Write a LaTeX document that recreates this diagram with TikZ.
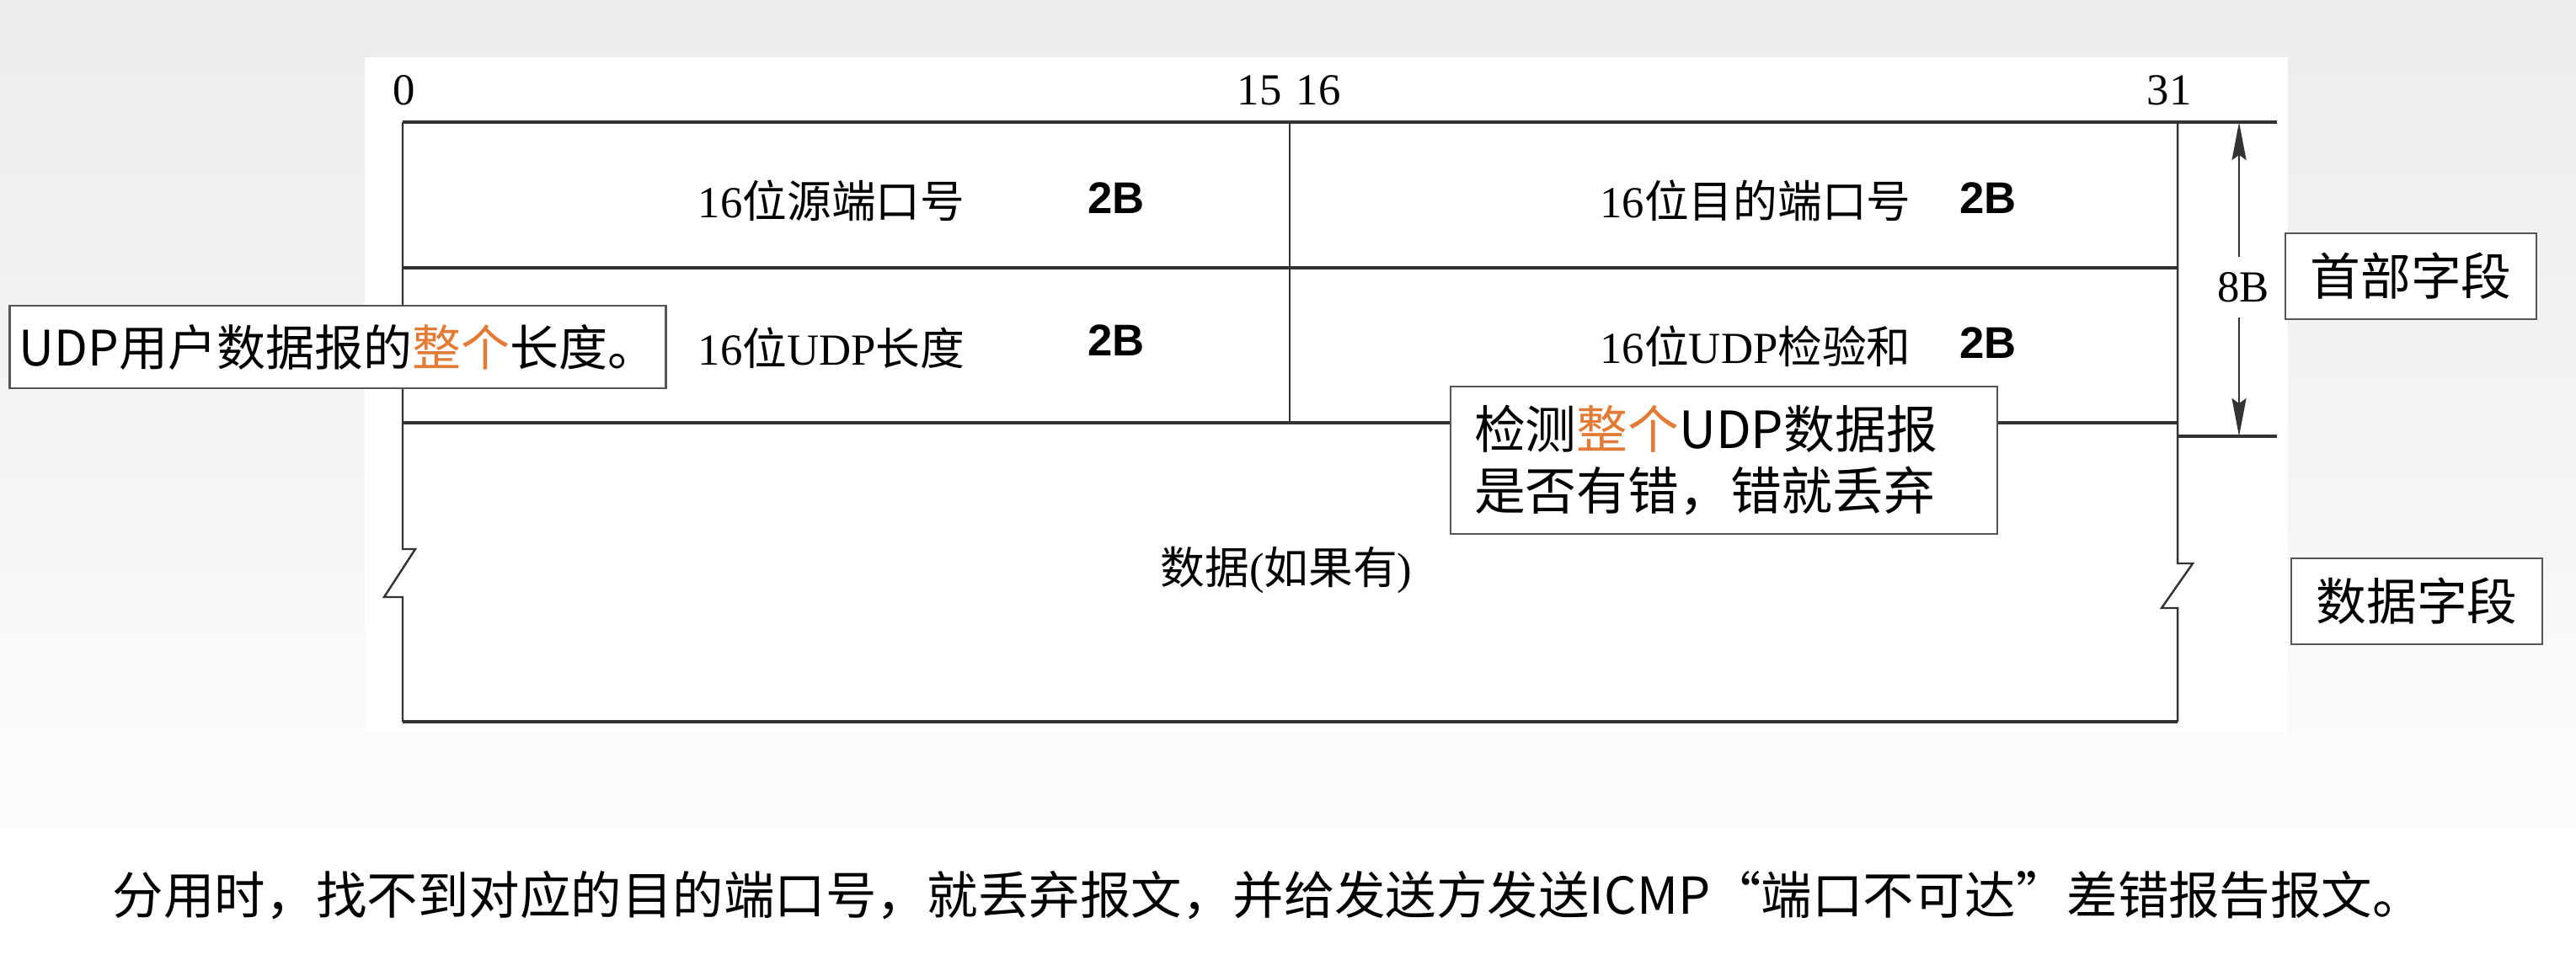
\documentclass[tikz,border=0pt]{standalone}
\usepackage{fontspec}
\setmainfont{Liberation Serif}
\setsansfont{Liberation Sans}
\newfontfamily\cjk{Noto Sans CJK SC}
\newcommand\zh[1]{{\cjk #1}}
\definecolor{udpline}{HTML}{333333}
\definecolor{udpbox}{HTML}{555555}
\definecolor{udporange}{HTML}{E27B36}
\definecolor{udpbg}{HTML}{ECECEC}
\newcommand\udpem[1]{\textcolor{udporange}{#1}}
\usetikzlibrary{
  arrows.meta,
  positioning,
  calc,
}

\begin{document}
\begin{tikzpicture}[
  hline/.style={draw=udpline, line width=1.1pt},
  vline/.style={draw=udpline, line width=0.7pt},
  field/.style={font=\fontsize{15}{18}\selectfont, inner sep=0pt},
  bytes/.style={font=\sffamily\bfseries\fontsize{15}{18}\selectfont, inner sep=0pt},
  bitnum/.style={font=\fontsize{15}{18}\selectfont, inner sep=0pt},
  note/.style={
    draw=udpbox, fill=white, line width=0.6pt,
    font=\cjk\fontsize{17}{21}\selectfont, inner sep=0pt,
  },
  tag/.style={
    draw=udpbox, fill=white, line width=0.6pt,
    minimum width=2.98cm, minimum height=1.02cm,
    font=\cjk\fontsize{17}{21}\selectfont, inner sep=0pt,
  },
  sizearrow/.style={
    -{Stealth[length=4.5mm, width=1.7mm, inset=0.6mm]}, draw=udpline, line width=0.7pt,
  },
]
  \useasboundingbox (0,0) rectangle (30.58,11.33);
  \shade[top color=udpbg, bottom color=white] (0,0) rectangle (30.58,11.33);
  \fill[white] (4.33,2.63) rectangle (27.16,10.65);

  % --- bit positions ---
  \node[bitnum] (bit0)  at (4.80,10.26)  {0};
  \node[bitnum] (bit15) at (14.95,10.26) {15};
  \node[bitnum] (bit16) at (15.65,10.26) {16};
  \node[bitnum] (bit31) at (25.75,10.26) {31};

  % --- frame ---
  \draw[vline] (4.78,9.88) -- (4.78,4.81) -- (4.93,4.81) -- (4.56,4.24)
    -- (4.78,4.24) -- (4.78,2.76);
  \draw[vline] (25.85,9.88) -- (25.85,4.64) -- (26.03,4.64) -- (25.66,4.11)
    -- (25.85,4.11) -- (25.85,2.76);
  \draw[vline] (15.31,9.88) -- (15.31,6.31);
  \draw[hline] (4.78,9.88) -- (27.03,9.88);
  \draw[hline] (4.78,8.15) -- (25.85,8.15);
  \draw[hline] (4.78,6.31) -- (25.85,6.31);
  \draw[hline] (25.85,6.15) -- (27.03,6.15);
  \draw[hline] (4.78,2.76) -- (25.85,2.76);

  % --- header fields ---
  \node[field] (src)     at (9.87,8.95)  {16\zh{位源端口号}};
  \node[bytes] (src-b)   at (13.25,8.98) {2B};
  \node[field] (dst)     at (20.84,8.95) {16\zh{位目的端口号}};
  \node[bytes] (dst-b)   at (23.60,8.98) {2B};
  \node[field] (len)     at (9.87,7.20)  {16\zh{位}UDP\zh{长度}};
  \node[bytes] (len-b)   at (13.25,7.29) {2B};
  \node[field] (sum)     at (20.84,7.22) {16\zh{位}UDP\zh{检验和}};
  \node[bytes] (sum-b)   at (23.60,7.26) {2B};
  \node[field] (payload) at (15.27,4.56) {\zh{数据}(\zh{如果有})};

  % --- header size ---
  \coordinate (hdr-top) at (26.58,9.88);
  \coordinate (hdr-bot) at (26.58,6.15);
  \node[bitnum, fill=white, inner xsep=1pt, inner ysep=5pt] (hdr-size) at (26.63,7.92) {8B};
  \draw[sizearrow] (hdr-size.north -| hdr-top) -- (hdr-top);
  \draw[sizearrow] (hdr-size.south -| hdr-bot) -- (hdr-bot);

  % --- notes ---
  \node[note, minimum width=7.79cm, minimum height=0.98cm,
    font=\cjk\fontsize{16.5}{20}\selectfont] (len-note) at (4.01,7.21)
    {UDP用户数据报的\udpem{整个}长度。};
  \node[note, anchor=north west, text width=5.93cm, inner xsep=0.28cm,
    minimum height=1.75cm, align=left, font=\cjk\fontsize{17.3}{21}\selectfont]
    (sum-note) at (17.21,6.75)
    {检测\udpem{整个}UDP数据报\\是否有错，错就丢弃};

  \node[tag] (hdr-tag)  at (28.62,8.05) {首部字段};
  \node[tag] (data-tag) at (28.69,4.19) {数据字段};

  % --- remark ---
  \node[anchor=west, inner sep=0pt, font=\cjk\fontsize{17.2}{21}\selectfont] (remark) at (1.33,0.70)
    {分用时，找不到对应的目的端口号，就丢弃报文，并给发送方发送ICMP“端口不可达”差错报告报文。};
\end{tikzpicture}
\end{document}
